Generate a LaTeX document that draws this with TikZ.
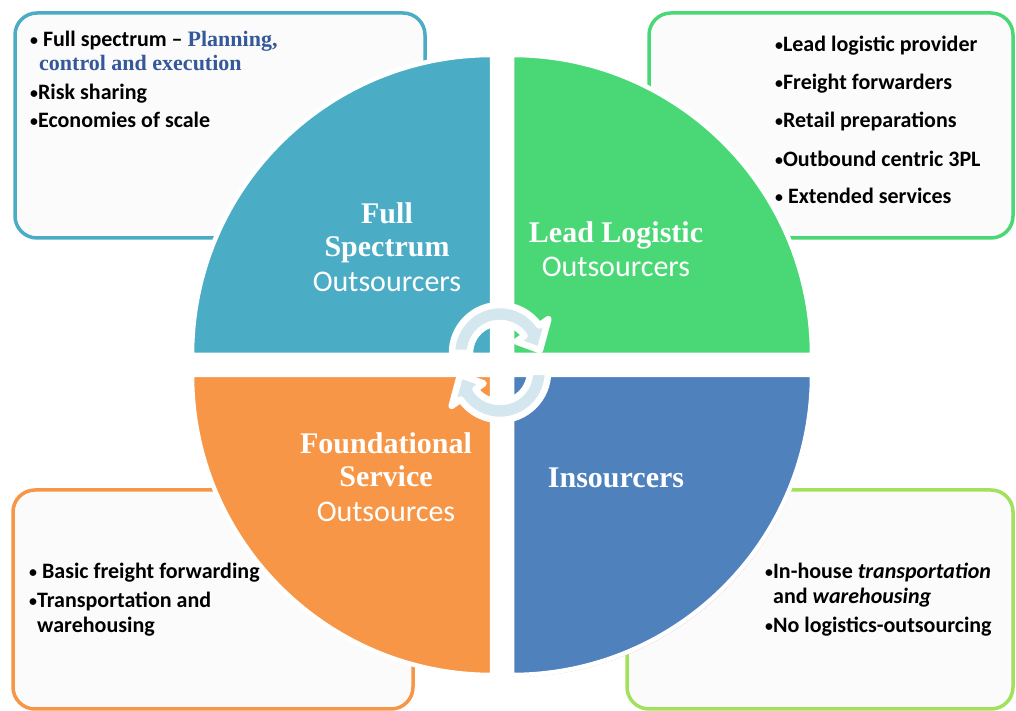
\documentclass[tikz,border=0pt]{standalone}
\usepackage{fontspec}
\usepackage{graphicx}
\setmainfont{Carlito}
\newfontfamily\tnr{Liberation Serif}
\usetikzlibrary{shadows}
\newcommand\bul{\raisebox{0.12ex}{\scalebox{0.72}{\textbullet}}}
\definecolor{cTL}{HTML}{4BACC6}
\definecolor{cTR}{HTML}{4AD876}
\definecolor{cBL}{HTML}{F79646}
\definecolor{cBR}{HTML}{4F81BD}
\definecolor{cBRbox}{HTML}{A2E15C}
\definecolor{boxfill}{HTML}{FBFBFB}
\definecolor{arrowfill}{HTML}{D4E6EE}
\definecolor{planblue}{HTML}{34589A}
\begin{document}
\begin{tikzpicture}[x=1pt,y=1pt,
  box/.style={rounded corners=22pt, line width=3.5pt, fill=boxfill},
  quad/.style={draw=white, line width=4.5pt, line join=round,
    drop shadow={opacity=0.35, shadow xshift=1.5pt, shadow yshift=-2pt}},
  qlab/.style={text=white, anchor=base, inner sep=0pt},
  serifl/.style={qlab, font=\tnr\bfseries\fontsize{30}{34}\selectfont},
  sansl/.style={qlab, font=\fontsize{30}{34}\selectfont},
  item/.style={anchor=base west, inner sep=0pt, font=\bfseries\fontsize{22}{26}\selectfont},
  cyc/.style={fill=arrowfill, draw=white, line width=6.5pt, line join=round,
    drop shadow={opacity=0.3, shadow xshift=1.5pt, shadow yshift=-2pt}}
]
\useasboundingbox (0,0) rectangle (1016,711);
\fill[white] (0,0) rectangle (1016,711);

% side boxes
\draw[box, draw=cTL] (15,473) rectangle (425,698);
\draw[box, draw=cTR] (649,473) rectangle (1013,698);
\draw[box, draw=cBL] (13,2) rectangle (413,221);
\draw[box, draw=cBRbox] (627,2) rectangle (1013,221);

% top-left box text
\node[item] (tl1) at (30,664) {\bul\ Full spectrum -- {\tnr\bfseries\fontsize{22}{26}\selectfont\color{planblue}Planning,}};
\node[item, font=\tnr\bfseries\fontsize{22}{26}\selectfont, text=planblue] (tl2) at (39,640) {control and execution};
\node[item] (tl3) at (30,611) {\bul Risk sharing};
\node[item] (tl4) at (30,583) {\bul Economies of scale};

% top-right box text
\node[item] (tr1) at (775,659) {\bul Lead logistic provider};
\node[item] (tr2) at (775,621) {\bul Freight forwarders};
\node[item] (tr3) at (775,583) {\bul Retail preparations};
\node[item] (tr4) at (775,544) {\bul Outbound centric 3PL};
\node[item] (tr5) at (775,507) {\bul\ Extended services};

% bottom-left box text
\node[item] (bl1) at (29,132) {\bul\ Basic freight forwarding};
\node[item] (bl2) at (29,103) {\bul Transportation and};
\node[item] (bl3) at (37,78) {warehousing};

% bottom-right box text
\node[item] (br1) at (765,132) {\bul In-house \textit{transportation}};
\node[item] (br2) at (773,107) {and \textit{warehousing}};
\node[item] (br3) at (765,78) {\bul No logistics-outsourcing};

% quadrants
\path[quad, fill=cTL] (492,356) -- (192,356) arc[start angle=180, end angle=90, radius=300] -- cycle;
\path[quad, fill=cTR] (512,356) -- (512,656) arc[start angle=90, end angle=0, radius=300] -- cycle;
\path[quad, fill=cBL] (492,336) -- (192,336) arc[start angle=180, end angle=270, radius=300] -- cycle;
\path[quad, fill=cBR] (512,336) -- (812,336) arc[start angle=0, end angle=-90, radius=300] -- cycle;

% quadrant labels
\node[serifl] (fs1) at (387,487) {Full};
\node[serifl] (fs2) at (387,454) {Spectrum};
\node[sansl]  (fs3) at (387,419) {Outsourcers};
\node[serifl] (ll1) at (616,468) {Lead Logistic};
\node[sansl]  (ll2) at (616,434) {Outsourcers};
\node[serifl] (fd1) at (386,257) {Foundational};
\node[serifl] (fd2) at (386,224) {Service};
\node[sansl]  (fd3) at (386,189) {Outsources};
\node[serifl] (ins) at (616,223) {Insourcers};

% cycle arrows
\begin{scope}[shift={(500,358)}]
\path[cyc] (180:48) arc[start angle=180, end angle=35, radius=48] -- (35:59) -- (4:40) -- (35:20)
  -- (35:30) arc[start angle=35, end angle=180, radius=30] -- cycle;
\end{scope}
\begin{scope}[shift={(500,339)}, rotate=180]
\path[cyc] (180:48) arc[start angle=180, end angle=35, radius=48] -- (35:59) -- (4:40) -- (35:20)
  -- (35:30) arc[start angle=35, end angle=180, radius=30] -- cycle;
\end{scope}
\end{tikzpicture}
\end{document}
